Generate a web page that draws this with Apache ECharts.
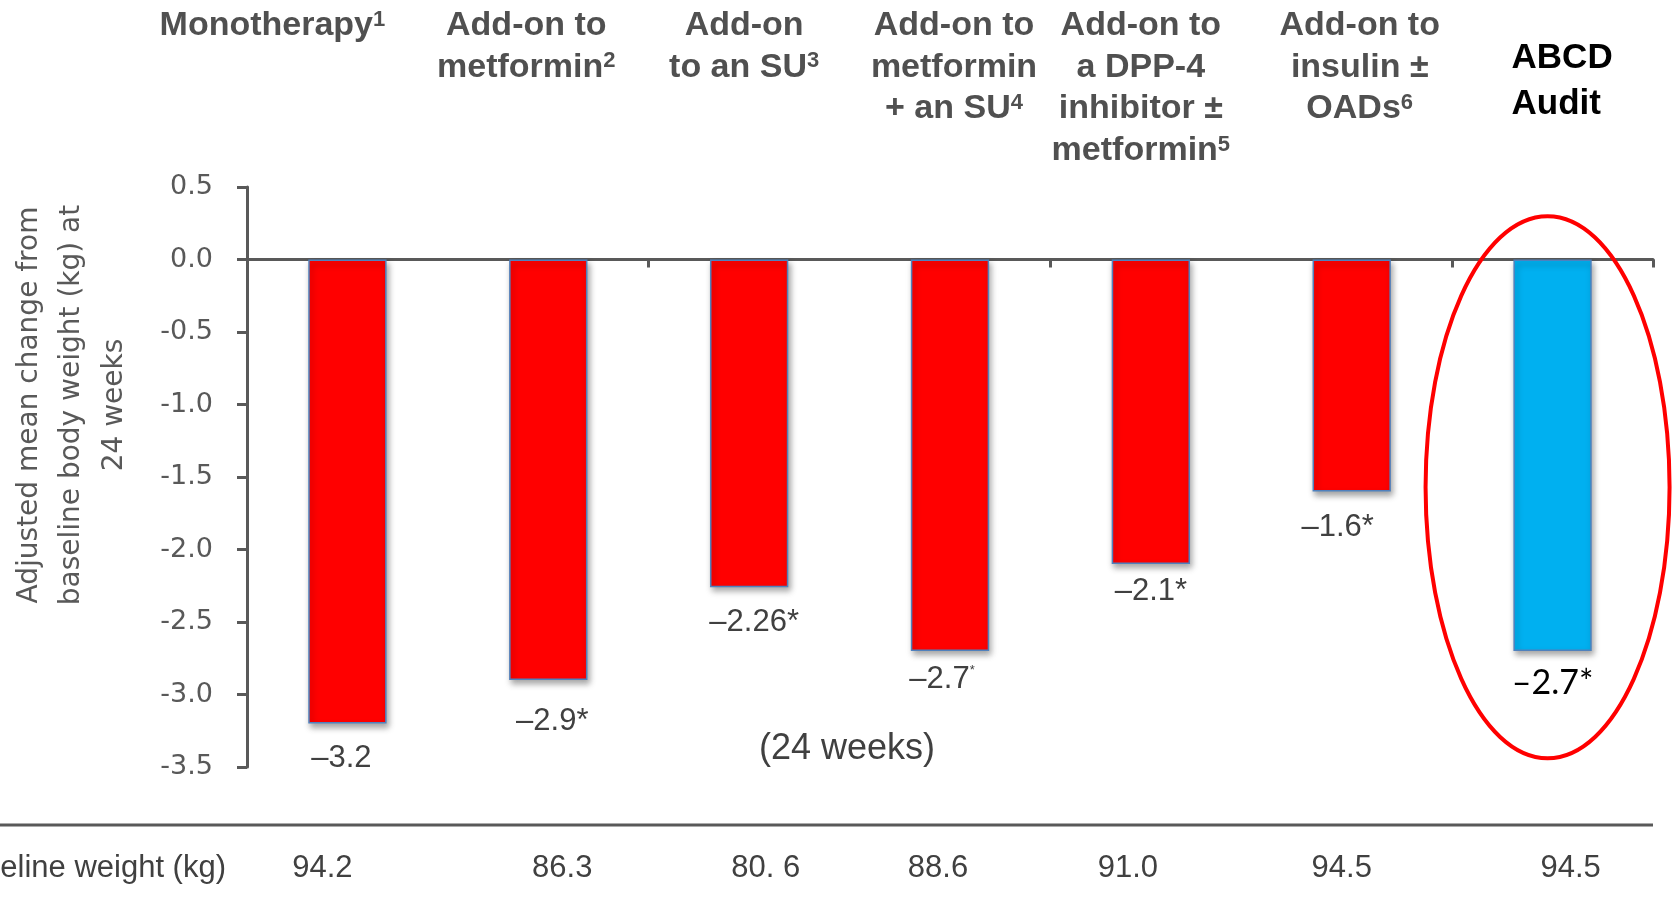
<!DOCTYPE html>
<html><head><meta charset="utf-8">
<script src="https://cdn.jsdelivr.net/npm/echarts@6/dist/echarts.min.js"></script>
<style>html,body{margin:0;padding:0;background:#fff;}#c{width:1672px;height:901px;}</style>
</head><body><div id="c"></div>
<script>
// ---- data ----
const categories = ['Monotherapy', 'Add-on to metformin', 'Add-on to an SU', 'Add-on to metformin + an SU',
  'Add-on to a DPP-4 inhibitor ± metformin', 'Add-on to insulin ± OADs', 'ABCD Audit'];
const headerLines = [['Monotherapy'], ['Add-on to', 'metformin'], ['Add-on', 'to an SU'],
  ['Add-on to', 'metformin', '+ an SU'], ['Add-on to', 'a DPP-4', 'inhibitor ±', 'metformin'],
  ['Add-on to', 'insulin ±', 'OADs'], ['ABCD', 'Audit']];
const headerRefs = ['1', '2', '3', '4', '5', '6', ''];
const weightChange = [-3.2, -2.9, -2.26, -2.7, -2.1, -1.6, -2.7];
const changeLabels = ['–3.2', '–2.9*', '–2.26*', '–2.7*', '–2.1*', '–1.6*', '–2.7*'];
const baselineWeights = ['94.2', '86.3', '80. 6', '88.6', '91.0', '94.5', '94.5'];
const yMin = -3.5, yMax = 0.5, yStep = 0.5;
const yAxisTitle = ['Adjusted mean change from', 'baseline body weight (kg) at', '24 weeks'];
const baselineTitle = 'Baseline weight (kg)';
const periodNote = '(24 weeks)';

// ---- styling ----
const GRAY = '#595959', LABEL = '#404040';
const labelDx = [-6, 4, 5, -8, 0, -14, 0];
const labelDy = [1, 8, 2, -5, -6, 2, -3];
const headerDx = [-75, -22, -5, 4, -10, 8, -41];
const weightDx = [-25, 14, 16.5, -12, -23, -10, 18];

const chart = echarts.init(document.getElementById('c'), null, {renderer: 'canvas'});
const last = weightChange.length - 1;

const barData = weightChange.map((v, i) => {
  const isAudit = i === last;
  const lbl = {
    offset: [labelDx[i], labelDy[i]],
    formatter: changeLabels[i]
  };
  if (i === 3) {
    lbl.formatter = changeLabels[i].replace('*', '{s|*}');
  }
  if (isAudit) {
    lbl.color = '#000';
    lbl.fontFamily = 'Lato';
    lbl.fontSize = 34;
    lbl.lineHeight = 34;
  }
  return {
    value: v,
    itemStyle: {color: isAudit ? '#00B0F0' : '#FF0000'},
    label: lbl
  };
});

chart.setOption({
  animation: false,
  backgroundColor: '#fff',
  grid: {left: 247, right: 19, top: 187, bottom: 134, containLabel: false},
  xAxis: {
    type: 'category', data: categories, boundaryGap: true,
    axisLine: {onZero: true, lineStyle: {color: GRAY, width: 3}},
    axisTick: {show: true, length: 8, lineStyle: {color: GRAY, width: 3}},
    axisLabel: {show: false}, splitLine: {show: false}
  },
  yAxis: {
    type: 'value', min: yMin, max: yMax, interval: yStep,
    axisLine: {show: true, lineStyle: {color: GRAY, width: 3}},
    axisTick: {show: true, length: 10, lineStyle: {color: GRAY, width: 3}},
    splitLine: {show: false},
    axisLabel: {formatter: v => v.toFixed(1), fontFamily: 'DejaVu Sans', fontSize: 27, color: GRAY, margin: 34}
  },
  series: [{
    type: 'bar', data: barData, barWidth: '39%',
    itemStyle: {borderColor: '#4F81BD', borderWidth: 1.5, shadowBlur: 6, shadowColor: 'rgba(0,0,0,0.35)', shadowOffsetX: 2, shadowOffsetY: 4},
    label: {
      show: true, position: 'bottom', distance: 18, fontFamily: 'Liberation Sans', fontSize: 31, lineHeight: 31, color: LABEL,
      rich: {s: {fontFamily: 'Liberation Sans', fontSize: 13, lineHeight: 31, verticalAlign: 'top', color: LABEL, padding: [0, 0, 14, 0]}}
    }
  }]
});

// ---- text & annotations positioned from the axes ----
const px = i => chart.convertToPixel({gridIndex: 0}, [categories[i], 0]);
const gridRight = px(last)[0] + (px(1)[0] - px(0)[0]) / 2;
const g = [];

function txt(x, y, text, o) {
  const style = Object.assign({text: text, x: 0, y: 0}, o);
  style.textAlign = style.align; style.textVerticalAlign = style.verticalAlign;
  return {type: 'text', x: x, y: y, rotation: o.rotation || 0, z: 100, style: style};
}

headerLines.forEach((lines, i) => {
  const cx = px(i)[0];
  const isAudit = i === last;
  let t = lines.join('\n');
  if (headerRefs[i]) t += '{s|' + headerRefs[i] + '}';
  if (isAudit) {
    g.push(txt(cx + headerDx[i], 36, t, {
      fill: '#000', fontFamily: 'Liberation Sans', fontWeight: 'bold', fontSize: 35, lineHeight: 45.5,
      align: 'left', verticalAlign: 'top'
    }));
  } else {
    g.push(txt(cx + headerDx[i], 5, t, {
      fill: '#505050', fontFamily: 'Liberation Sans', fontWeight: 'bold', fontSize: 34, lineHeight: 41.6,
      align: 'center', verticalAlign: 'top',
      rich: {s: {fill: '#505050', fontFamily: 'Liberation Sans', fontWeight: 'bold', fontSize: 22, lineHeight: 22, padding: [0, 0, 12, 0]}}
    }));
  }
});

// baseline weights row
const rowY = 868;
baselineWeights.forEach((w, i) => {
  g.push(txt(px(i)[0] + weightDx[i], rowY, w, {
    fill: LABEL, fontFamily: 'Liberation Sans', fontSize: 31, align: 'center', verticalAlign: 'middle'
  }));
});
g.push(txt(226, rowY, baselineTitle, {
  fill: LABEL, fontFamily: 'Liberation Sans', fontSize: 31, align: 'right', verticalAlign: 'middle'
}));
g.push({type: 'line', z: 100, shape: {x1: 0, y1: 825, x2: gridRight, y2: 825}, style: {stroke: GRAY, lineWidth: 3}});

// y axis title
g.push(txt(72, 405, yAxisTitle.join('\n'), {
  fill: GRAY, fontFamily: 'DejaVu Sans', fontSize: 28, lineHeight: 42.6, align: 'center', verticalAlign: 'middle',
  rotation: Math.PI / 2
}));

// period note
g.push(txt(847, 749, periodNote, {
  fill: LABEL, fontFamily: 'Liberation Sans', fontSize: 36, align: 'center', verticalAlign: 'middle'
}));

// highlight ellipse around the audit bar
const auditPt = chart.convertToPixel({gridIndex: 0}, [categories[last], weightChange[last] / 2]);
g.push({type: 'ellipse', z: 120, shape: {cx: auditPt[0] - 5, cy: auditPt[1] + 32, rx: 122, ry: 271},
  style: {fill: 'none', stroke: '#FF0000', lineWidth: 4}});

chart.setOption({graphic: {elements: g}});
</script>
</body></html>
